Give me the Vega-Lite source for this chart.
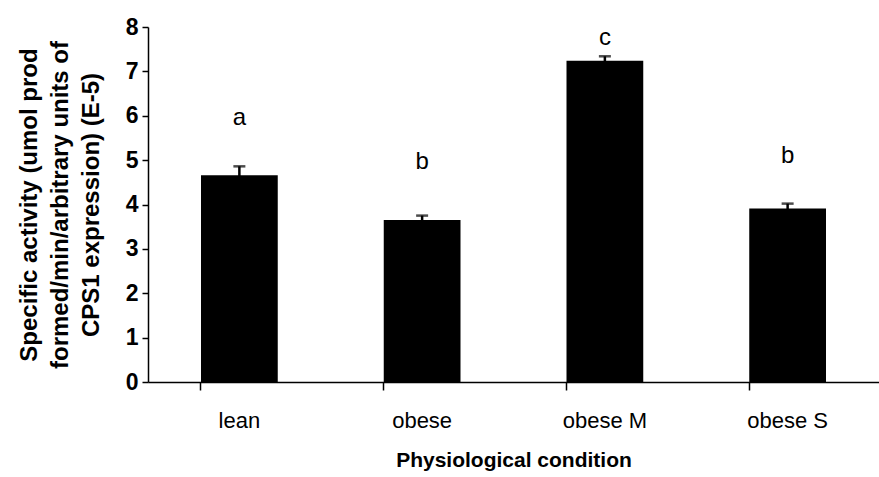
{
  "$schema": "https://vega.github.io/schema/vega-lite/v6.json",
  "autosize": "none",
  "width": 731,
  "height": 355,
  "padding": {"left": 148, "top": 27, "right": 0, "bottom": 95},
  "background": "white",
  "config": {"view": {"stroke": null}, "font": "Liberation Sans"},
  "data": {"values": [
    {"condition": "lean", "value": 4.66, "err": 0.2, "letter": "a", "letter_y": 5.95},
    {"condition": "obese", "value": 3.65, "err": 0.1, "letter": "b", "letter_y": 4.95},
    {"condition": "obese M", "value": 7.24, "err": 0.1, "letter": "c", "letter_y": 7.75},
    {"condition": "obese S", "value": 3.91, "err": 0.11, "letter": "b", "letter_y": 5.09}
  ]},
  "resolve": {"axis": {"y": "independent"}},
  "encoding": {
    "x": {"field": "condition", "type": "nominal", "sort": null,
      "scale": {"paddingInner": 0.58, "paddingOuter": 0.29},
      "axis": {"title": "Physiological condition", "labelAngle": 0, "bandPosition": 0,
        "domainColor": "black", "domainWidth": 1.5, "tickColor": "black", "tickSize": 8, "tickWidth": 1.5,
        "labelFont": "Liberation Sans", "labelFontSize": 22, "labelColor": "black", "labelPadding": 20,
        "titleFont": "Liberation Sans", "titleFontSize": 21, "titleFontWeight": "bold", "titleColor": "black", "titlePadding": 18}}
  },
  "layer": [
    {"mark": {"type": "bar", "color": "black"},
      "encoding": {"y": {"field": "value", "type": "quantitative",
        "scale": {"domain": [0, 8], "nice": false},
        "axis": {"values": [0,1,2,3,4,5,6,7,8], "grid": false, "title": ["Specific activity (umol prod", "formed/min/arbitrary units of", "CPS1 expression) (E-5)"],
          "domainColor": "black", "domainWidth": 1.5, "tickColor": "black", "tickSize": 6, "tickWidth": 1.5,
          "labelFont": "Liberation Sans", "labelFontSize": 23, "labelFontWeight": "bold", "labelColor": "black", "labelPadding": 4,
          "titleFont": "Liberation Sans", "titleFontSize": 24, "titleFontWeight": "bold", "titleColor": "black", "titleLineHeight": 31, "titlePadding": 22}}}},
    {"mark": {"type": "errorbar", "ticks": {"color": "black", "size": 12, "thickness": 2.5}, "rule": {"color": "black", "strokeWidth": 2.5}},
      "encoding": {"y": {"field": "value", "type": "quantitative", "scale": {"domain": [0, 8], "nice": false}, "axis": null}, "yError": {"field": "err"}}},
    {"mark": {"type": "text", "fontSize": 24, "font": "Liberation Sans", "color": "black", "baseline": "middle"},
      "encoding": {"y": {"field": "letter_y", "type": "quantitative", "scale": {"domain": [0, 8], "nice": false}, "axis": null}, "text": {"field": "letter"}}}
  ]
}
